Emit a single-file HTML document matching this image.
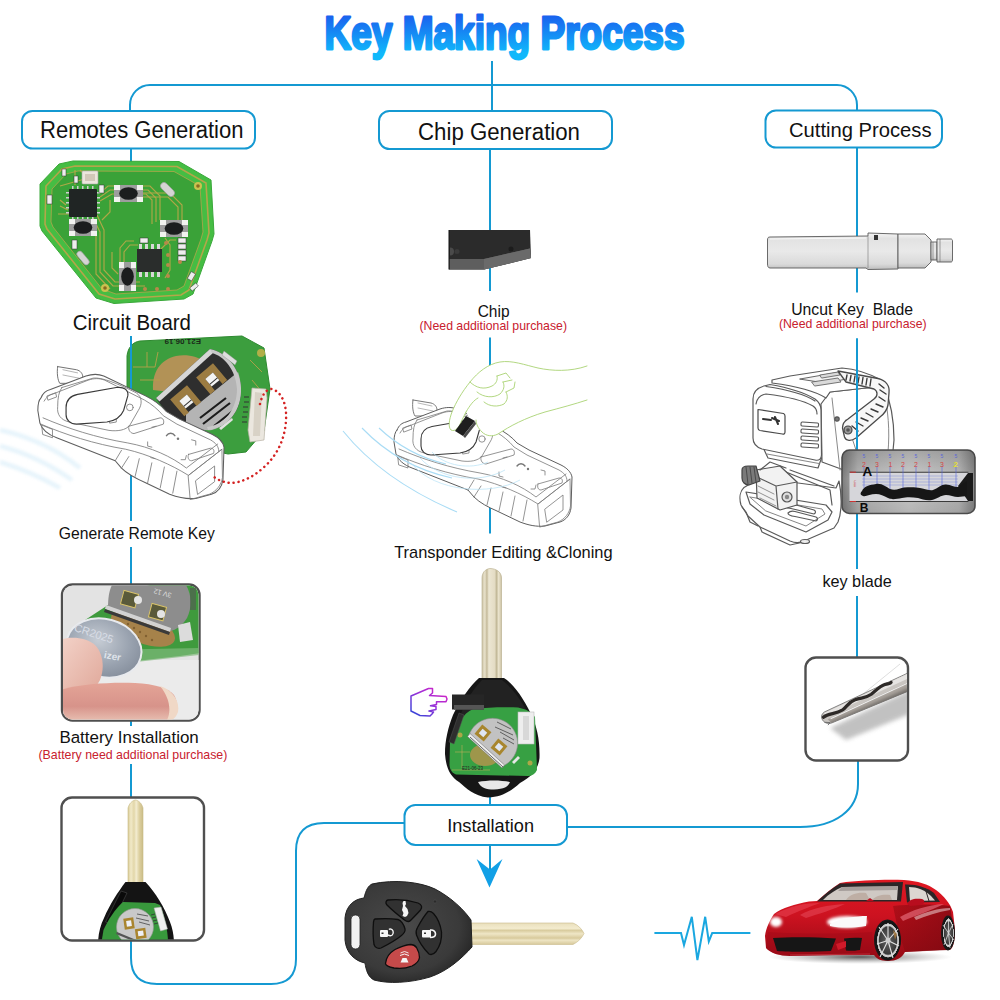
<!DOCTYPE html>
<html><head><meta charset="utf-8"><title>Key Making Process</title>
<style>
html,body{margin:0;padding:0;background:#fff;}
body{width:1000px;height:1000px;overflow:hidden;font-family:"Liberation Sans",sans-serif;}
svg{display:block;}
.t{font-family:"Liberation Sans",sans-serif;fill:#111;}
.r{font-family:"Liberation Sans",sans-serif;fill:#c8202e;}
.ln{fill:none;stroke:#1499d2;stroke-width:2;}
.bx{fill:#fff;stroke:#1499d2;stroke-width:2;}
.gb{fill:#fff;stroke:#4f4f4f;stroke-width:2.4;}
</style></head>
<body>
<svg width="1000" height="1000" viewBox="0 0 1000 1000">
<defs>
  <linearGradient id="tg" gradientUnits="userSpaceOnUse" x1="0" y1="15" x2="0" y2="53">
    <stop offset="0" stop-color="#1a60ee"/>
    <stop offset="1" stop-color="#10b8fb"/>
  </linearGradient>
</defs>
<rect width="1000" height="1000" fill="#fff"/>

<!-- TITLE -->
<text x="324.5" y="49.2" font-size="47" font-weight="bold" textLength="360" lengthAdjust="spacingAndGlyphs" fill="url(#tg)" stroke="url(#tg)" stroke-width="2.8" stroke-linejoin="round" font-family="Liberation Sans">Key Making Process</text>

<!-- CONNECTOR LINES -->
<g class="ln">
  <path d="M492,61 V111"/>
  <path d="M130,111 V105 A20,20 0 0 1 150,85 H837 A20,20 0 0 1 857,105 V111"/>
  <!-- left column -->
  <path d="M131,148 V162"/>
  <path d="M131,336 V521"/>
  <path d="M131,547 V584"/>
  <path d="M131,721 V726"/>
  <path d="M131,764 V797"/>
  <path d="M131,940 V958 Q131,984 157,984 H271 Q296,984 296,959 V851 Q296,823 324,823 H405"/>
  <!-- middle column -->
  <path d="M490,149 V291"/>
  <path d="M490,337.5 V533.5"/>
  <path d="M490,790 V805"/>
  <path d="M490,845 V870"/>
  <!-- right column -->
  <path d="M857,147 V292.5"/>
  <path d="M857,338.5 V569"/>
  <path d="M857,596 V657"/>
  <path d="M858,761 V784 C858,810 835,827 800,827 H567"/>
</g>
<path d="M476.6,859 L490,869.5 L502.5,859 L489.5,887.5 Z" fill="#12a0e6"/>

<!-- HEADER BOXES -->
<rect class="bx" x="22" y="111" width="233" height="37.5" rx="10.5"/>
<rect class="bx" x="379" y="111" width="233" height="38" rx="10.5"/>
<rect class="bx" x="765.5" y="110.5" width="176.5" height="37" rx="10.5"/>
<rect class="bx" x="404.5" y="805" width="162.5" height="40" rx="11"/>

<text class="t" x="40" y="137.5" font-size="23" textLength="203.5" lengthAdjust="spacingAndGlyphs">Remotes Generation</text>
<text class="t" x="418" y="139.5" font-size="23" textLength="162" lengthAdjust="spacingAndGlyphs">Chip Generation</text>
<text class="t" x="789" y="137.2" font-size="20" textLength="142.5" lengthAdjust="spacingAndGlyphs">Cutting Process</text>
<text class="t" x="447.2" y="832" font-size="19" textLength="86.8" lengthAdjust="spacingAndGlyphs">Installation</text>

<!-- LABELS -->
<text class="t" x="72.8" y="329.6" font-size="21.2" textLength="118.2" lengthAdjust="spacingAndGlyphs">Circuit Board</text>
<text class="t" x="58.8" y="538.8" font-size="17.4" textLength="156.1" lengthAdjust="spacingAndGlyphs">Generate Remote Key</text>
<text class="t" x="59.4" y="742.6" font-size="16.3" textLength="139.4" lengthAdjust="spacingAndGlyphs">Battery Installation</text>
<text class="r" x="38.5" y="758.7" font-size="12.6" textLength="188.8" lengthAdjust="spacingAndGlyphs">(Battery need additional purchase)</text>
<text class="t" x="477.7" y="316.9" font-size="16" textLength="31.8" lengthAdjust="spacingAndGlyphs">Chip</text>
<text class="r" x="419.5" y="330" font-size="12.6" textLength="147.5" lengthAdjust="spacingAndGlyphs">(Need additional purchase)</text>
<text class="t" x="791.2" y="314.7" font-size="15.6" textLength="121.9" lengthAdjust="spacingAndGlyphs">Uncut Key&#160; Blade</text>
<text class="r" x="778.9" y="327.8" font-size="12.6" textLength="147.7" lengthAdjust="spacingAndGlyphs">(Need additional purchase)</text>
<text class="t" x="394.2" y="557.6" font-size="16.4" textLength="218.4" lengthAdjust="spacingAndGlyphs">Transponder Editing &amp;Cloning</text>
<text class="t" x="822.4" y="587" font-size="16.4" textLength="69.4" lengthAdjust="spacingAndGlyphs">key blade</text>

<!-- GREY BOXES -->
<rect class="gb" x="62" y="584.5" width="137.5" height="136" rx="10.5"/>
<rect class="gb" x="61.5" y="797.5" width="142.5" height="143" rx="10.5"/>
<rect class="gb" x="805.5" y="657.5" width="102.5" height="103" rx="10.5"/>

<!-- BOTTOM REMOTE KEY -->
<g id="remote">
  <defs>
    <radialGradient id="rkg" cx="0.45" cy="0.45" r="0.6">
      <stop offset="0" stop-color="#4a4a4a"/>
      <stop offset="0.75" stop-color="#3a3a3a"/>
      <stop offset="1" stop-color="#262626"/>
    </radialGradient>
    <linearGradient id="bladeg" x1="0" y1="0" x2="0" y2="1">
      <stop offset="0" stop-color="#e9dfbc"/>
      <stop offset="0.25" stop-color="#f3ebce"/>
      <stop offset="0.35" stop-color="#d9cc9f"/>
      <stop offset="0.5" stop-color="#efe6c6"/>
      <stop offset="0.7" stop-color="#d8ca9c"/>
      <stop offset="0.8" stop-color="#eee5c4"/>
      <stop offset="1" stop-color="#d6c89a"/>
    </linearGradient>
  </defs>
  <path d="M471,923 L573,923 C578,925 582,929 584,933.5 C582,938 578,942 573,944.5 L471,944.5 Z" fill="url(#bladeg)" stroke="#c9bb8c" stroke-width="0.6"/>
  <path d="M372,884 C395,879 420,882 435,889 C452,898 464,910 471,920 L472,947 C462,958 448,971 430,977 C410,983 388,984 374,980 C368,977 366,970 365,963 C355,961 346,953 345,940 L345,918 C346,906 354,899 364,898 C366,890 368,886 372,884 Z" fill="url(#rkg)" stroke="#222" stroke-width="1"/>
  <rect x="351" y="915" width="9" height="34" rx="4.5" fill="#f2f2f2" stroke="#222" stroke-width="0.8"/>
  <!-- buttons -->
  <g stroke="#0e0e0e" stroke-width="1.3">
    <path d="M388,900 C398,899 410,900.5 418,903 C422,904.5 422.5,907.5 420.5,910 C417,914 413,918 410.5,920.5 C409,922 406.5,921.5 404.5,920 C398,915 392,910 387,905 C385,903 386,900.5 388,900 Z" fill="#313131"/>
    <path d="M375,919 C382,918.5 392,918.5 398,919.5 C401,920 404,925 405,929 C405.5,931.5 404,933.5 401.5,935.5 C396,940 388,944.5 381,948 C378,949 375,947.5 374,944.5 C373,938 373,928 373.5,922 C373.7,920.3 374,919.2 375,919 Z" fill="#313131"/>
    <path d="M428,911.5 C430,911 432,912 433.5,913.5 C437.5,918 440.5,925 441.5,932 C442,939 440,946 436,951.5 C434,954 431,955 429,954 C424,949 419,942 416.5,935 C415.5,932 416,930 417.5,927.5 C420.5,922 424,916 428,911.5 Z" fill="#313131"/>
    <path d="M395,949.5 C400,947 406,945 410.5,944.5 C413,944.5 415,945.5 416.5,947.5 C418,950 419.5,954 419.5,957.5 C419,961 416,964 412,966 C407,968 400,969 394,968 C389,967 385.5,966 385.5,963.5 C386,958 390,952.5 395,949.5 Z" fill="#c64a4a"/>
  </g>
  <!-- icons -->
  <g fill="#f6f6f6">
    <path d="M403.5,901 L405.5,901 L406,904 L405,906 L407.5,909 L408.5,913 L407,916 L405,917 L402.5,916 L403.5,913 L402,910 L403,906 L402.5,903 Z"/>
    <rect x="380" y="930" width="8" height="7" rx="1"/>
    <path d="M388,935 C392,937 394,934 393,931 C392,929 390,928.5 389,929.5" fill="none" stroke="#f6f6f6" stroke-width="1.4"/>
    <rect x="422" y="930" width="9" height="7.5" rx="1"/>
    <path d="M430,930 C434,929.5 435.5,932 435.5,934 C435.5,936.5 433,937.5 430,937.5" fill="none" stroke="#f6f6f6" stroke-width="1.6"/>
    <path d="M400.5,962.5 L408.5,962.5 L406.5,958 L402.5,958 Z"/>
    <path d="M400,955.5 Q404.5,952.5 409,955.5" fill="none" stroke="#f6f6f6" stroke-width="1"/>
    <path d="M400.5,953 Q404.5,950 408.5,953" fill="none" stroke="#f6f6f6" stroke-width="0.9"/>
  </g>
  <g fill="#333"><rect x="381.5" y="932.5" width="2" height="1.5"/><rect x="424" y="932.5" width="2" height="1.5"/></g>
  <circle cx="435" cy="901.5" r="1.6" fill="#2a2a2a" stroke="#555" stroke-width="0.4"/>
</g>

<!-- TOP LEFT PCB -->
<g id="pcb1">
  <path d="M40,184 L59,164 L73,161 L179,161.5 L211,180 L214,234 L212,241 L193,294 L184,299 L114,303.5 L96,298 L42,231 L40,226 Z" fill="#45bd43" stroke="#3aa83a" stroke-width="1"/>
  <path d="M46,186 L62,169 L75,166 L177,166.5 L206,183 L209,233 L207,240 L189,290 L181,295 L115,299 L99,294 L47,229 L45,224 Z" fill="none" stroke="#b3a64a" stroke-width="1.6"/>
  <path d="M52,189 L66,174 L78,171 L174,171.5 L200,186 L203,232 L201,239 L184,286 L177,290 L116,294 L102,289 L53,227 L51,222 Z" fill="#3aa238" stroke="#b3a64a" stroke-width="0.8"/>
  <!-- traces -->
  <g fill="none" stroke="#b5a848" stroke-width="1.15" opacity="0.95">
    <path d="M100,193 L108,186 L150,186 L160,196 L160,220"/>
    <path d="M100,197 L110,190 L148,190 L156,198 L156,222"/>
    <path d="M100,201 L112,194 L146,194 L152,200 L152,224"/>
    <path d="M102,220 L110,212 L110,200"/>
    <path d="M97,215 L104,230 L104,270 L115,282 L140,282"/>
    <path d="M93,218 L100,232 L100,272 L113,286 L145,286"/>
    <path d="M89,220 L96,234 L96,274 L110,289"/>
    <path d="M138,245 L130,245 L124,252 L124,262"/>
    <path d="M134,241 L126,241 L120,248 L120,262"/>
    <path d="M165,238 L170,245 L170,270 L165,278"/>
    <path d="M60,200 L66,205 M60,206 L68,210"/>
    <path d="M75,170 L75,185 M80,170 L85,175"/>
    <path d="M143,193 L170,193 L182,205 L182,222"/>
    <path d="M143,197 L168,197 L178,207 L178,222"/>
    <path d="M112,252 L112,268 L118,274"/>
    <path d="M160,250 L170,240 L176,240"/>
    <path d="M60,186 L88,178 M58,214 L70,214"/>
  </g>
  <!-- QFN chip -->
  <rect x="69" y="189" width="28" height="28" rx="1" fill="#202524"/>
  <g fill="#cfcfcf">
    <rect x="66" y="192" width="3" height="1.5"/><rect x="66" y="197" width="3" height="1.5"/><rect x="66" y="202" width="3" height="1.5"/><rect x="66" y="207" width="3" height="1.5"/><rect x="66" y="212" width="3" height="1.5"/>
    <rect x="97" y="192" width="3" height="1.5"/><rect x="97" y="197" width="3" height="1.5"/><rect x="97" y="202" width="3" height="1.5"/><rect x="97" y="207" width="3" height="1.5"/><rect x="97" y="212" width="3" height="1.5"/>
    <rect x="72" y="186" width="1.5" height="3"/><rect x="77" y="186" width="1.5" height="3"/><rect x="82" y="186" width="1.5" height="3"/><rect x="87" y="186" width="1.5" height="3"/><rect x="92" y="186" width="1.5" height="3"/>
    <rect x="72" y="217" width="1.5" height="3"/><rect x="77" y="217" width="1.5" height="3"/><rect x="82" y="217" width="1.5" height="3"/><rect x="87" y="217" width="1.5" height="3"/><rect x="92" y="217" width="1.5" height="3"/>
  </g>
  <!-- tactile switches -->
  <g>
    <rect x="114" y="185" width="29" height="17" rx="1" fill="#9d9d9d"/>
    <rect x="114" y="185" width="6" height="5" fill="#f2f2f0"/>
    <rect x="137" y="185" width="6" height="5" fill="#f2f2f0"/>
    <rect x="114" y="197" width="6" height="5" fill="#f2f2f0"/>
    <rect x="137" y="197" width="6" height="5" fill="#f2f2f0"/>
    <ellipse cx="128.5" cy="193.5" rx="9.3" ry="6.3" fill="#1b1d1e"/>
    <rect x="69" y="219" width="28" height="17" rx="1" fill="#9d9d9d"/>
    <rect x="69" y="219" width="6" height="5" fill="#f2f2f0"/>
    <rect x="91" y="219" width="6" height="5" fill="#f2f2f0"/>
    <rect x="69" y="231" width="6" height="5" fill="#f2f2f0"/>
    <rect x="91" y="231" width="6" height="5" fill="#f2f2f0"/>
    <ellipse cx="83.0" cy="227.5" rx="9.3" ry="6.3" fill="#1b1d1e"/>
    <rect x="160" y="220" width="28" height="17" rx="1" fill="#9d9d9d"/>
    <rect x="160" y="220" width="6" height="5" fill="#f2f2f0"/>
    <rect x="182" y="220" width="6" height="5" fill="#f2f2f0"/>
    <rect x="160" y="232" width="6" height="5" fill="#f2f2f0"/>
    <rect x="182" y="232" width="6" height="5" fill="#f2f2f0"/>
    <ellipse cx="174.0" cy="228.5" rx="9.3" ry="6.3" fill="#1b1d1e"/>
    <rect x="119" y="262" width="17" height="29" rx="1" fill="#9d9d9d"/>
    <rect x="119" y="262" width="5" height="6" fill="#f2f2f0"/>
    <rect x="131" y="262" width="5" height="6" fill="#f2f2f0"/>
    <rect x="119" y="285" width="5" height="6" fill="#f2f2f0"/>
    <rect x="131" y="285" width="5" height="6" fill="#f2f2f0"/>
    <ellipse cx="127.5" cy="276.5" rx="6.3" ry="9.3" fill="#1b1d1e"/>
  </g>
  <!-- SOIC -->
  <g fill="#d8d8d8">
    <rect x="139" y="244" width="3" height="5"/><rect x="145" y="244" width="3" height="5"/><rect x="151" y="244" width="3" height="5"/><rect x="157" y="244" width="3" height="5"/>
    <rect x="139" y="272" width="3" height="5"/><rect x="145" y="272" width="3" height="5"/><rect x="151" y="272" width="3" height="5"/><rect x="157" y="272" width="3" height="5"/>
  </g>
  <rect x="137" y="249" width="25" height="23" fill="#2a2d2c"/>
  <!-- crystals / small parts -->
  <rect x="159" y="186" width="17" height="7" rx="3.5" fill="#d4d4d4" stroke="#999" stroke-width="0.6" transform="rotate(45 167.5 189.5)"/>
  <rect x="75" y="255" width="16" height="6" rx="3" fill="#d4d4d4" stroke="#999" stroke-width="0.6" transform="rotate(50 83 258)"/>
  <rect x="82" y="171" width="16" height="13" rx="1" fill="#ece6dc" stroke="#aaa" stroke-width="0.6"/>
  <rect x="85" y="174" width="10" height="7" fill="#d2c8b8"/>
  <circle cx="198" cy="186" r="4" fill="#c9c24f"/><circle cx="198" cy="186" r="1.8" fill="#8a6a20"/>
  <circle cx="105" cy="288" r="4" fill="#c9c24f"/><circle cx="105" cy="288" r="1.8" fill="#8a6a20"/>
  <g fill="#eeeeee" stroke="#333" stroke-width="0.5">
    <rect x="178" y="238" width="8" height="5"/><rect x="178" y="244" width="8" height="5"/><rect x="178" y="250" width="8" height="5"/><rect x="178" y="256" width="8" height="5"/>
    <rect x="62" y="169" width="4" height="7"/><rect x="74" y="176" width="4" height="7"/>
    <rect x="47" y="195" width="5" height="9"/><rect x="99" y="185" width="5" height="8"/>
    <rect x="72" y="240" width="5" height="9"/><rect x="140" y="238" width="8" height="5"/>
    <rect x="189" y="272" width="5" height="8" transform="rotate(30 191 276)"/>
    <rect x="192" y="283" width="4" height="8" transform="rotate(50 194 287)"/>
  </g>
  <g fill="#b8884a">
    <circle cx="166" cy="243" r="2"/><circle cx="168" cy="255" r="2"/><circle cx="168" cy="265" r="2"/><circle cx="168" cy="276" r="2"/>
    <circle cx="145" cy="289" r="2"/><circle cx="157" cy="289" r="2"/><circle cx="168" cy="289" r="2"/><circle cx="180" cy="262" r="2"/>
  </g>
</g>

<!-- PCB2 + REMOTE DEVICE -->
<g id="pcb2">
  <path d="M127,356 C128,347 133,342 140,341 L242,336 L264,348 L270,389 L264,431 L246,452 L228,454 L160,440 L127,420 Z" fill="#3c9e3e"/>
  <path d="M127,356 C128,347 133,342 140,341 L242,336 L264,348 L270,389 L264,431 L246,452 L228,454 L160,440 L127,420 Z" fill="none" stroke="#2e8a30" stroke-width="1"/>
  <circle cx="261" cy="353" r="4" fill="#c6b24a" opacity="0.85"/>
  <!-- tan battery pad -->
  <path d="M153,390 C152,372 160,360 176,356 C188,354 198,357 205,362 L170,392 Z" fill="#b29256"/>
  <g fill="none" stroke="#b4a04a" stroke-width="0.9">
    <path d="M133,367 L155,367 L158,352 M147,352 L147,367 M160,380 L140,380"/>
    <path d="M250,360 L262,372 M252,380 L262,392"/>
  </g>
  <text x="163" y="347" font-size="8" font-weight="bold" fill="#1a2a1a" transform="rotate(180 182 343)" font-family="Liberation Sans">E21.06.19</text>
  <!-- battery holder D shape -->
  <path d="M156,398 L210,349 C226,352 240,368 241,388 C242,410 228,428 208,430 C188,431 170,420 156,398 Z" fill="#2e2e2e"/>
  <path d="M186,414 L238,372 C241,380 242,392 239,402 C236,414 226,426 212,430 C202,431 194,428 186,422 Z" fill="#b4b4b4"/>
  <path d="M200,418 L226,398 M203,424 L230,403 M214,426 L234,410" stroke="#1c1c1c" stroke-width="2.2"/>
  <path d="M156,398 L210,349 L213.5,352.5 L159.5,401.5 Z" fill="#d6d6d6"/>
  <path d="M210,349 C226,352 240,368 241,388 C242,410 228,428 208,430 L207,427 C224,425 237,410 237,389 C236,370 224,356 212,353 Z" fill="#c8c8c8"/>
  <path d="M224,351 L237,361 L235,365 L222,355 Z" fill="#dedede" stroke="#888" stroke-width="0.4"/>
  <path d="M219,428 L232,418 L233,420 L221,430 Z" fill="#e0e0e0"/>
  <!-- gold contacts (U brackets) -->
  <g transform="rotate(-40 211 378)">
    <path d="M200,368 L222,368 L222,390 L216,390 L216,375 L206,375 L206,390 L200,390 Z" fill="#9c7c42"/>
    <rect x="206" y="375" width="10" height="10" fill="#f4f4f4"/>
    <path d="M206,382 L216,382" stroke="#333" stroke-width="1"/>
  </g>
  <g transform="rotate(-40 185 400)">
    <path d="M174,390 L196,390 L196,412 L190,412 L190,397 L180,397 L180,412 L174,412 Z" fill="#9c7c42"/>
    <rect x="180" y="397" width="10" height="10" fill="#f4f4f4"/>
    <path d="M180,404 L190,404" stroke="#333" stroke-width="1"/>
  </g>
  <!-- white connector -->
  <path d="M252,388 L266,389 L267,398 L264,440 L250,442 L248,430 Z" fill="#ebe7df" stroke="#b9b3a6" stroke-width="0.7"/>
  <path d="M255,392 L262,393 L260,436 L253,436 Z" fill="#d8d2c6"/>
  <g stroke="#333" stroke-width="1.2"><path d="M244,397 L249,397 M244,402 L249,402 M243,407 L248,407 M243,412 L248,412 M242,417 L247,417 M242,422 L247,422"/></g>
</g>
<path d="M131,336 V390" class="ln"/>
<!-- faint blue swoosh -->
<defs><filter id="swb" x="-20%" y="-50%" width="140%" height="200%"><feGaussianBlur stdDeviation="1.5"/></filter></defs>
<g fill="none" stroke="#d3ebf8" stroke-width="4.5" opacity="0.55" filter="url(#swb)">
  <path d="M0,430 Q45,440 80,468"/>
  <path d="M0,446 Q38,456 72,480"/>
  <path d="M0,462 Q32,472 60,488"/>
</g>
<!-- remote device drawing -->
<g transform="matrix(1.046,0,0,1.046,-374.3,-51.8)" stroke-linejoin="round" stroke-linecap="round">
    <path d="M413,400 L431,403 C435,404 437,407 437,410 L437,416 L415,416 C413,413 412,406 413,400 Z" fill="#fff" stroke="#6a6a6a" stroke-width="0.9"/>
    <path d="M418,403 L432,406 M418,408 L433,411" stroke="#999" stroke-width="0.7" fill="none"/>
    <path d="M397,430 C399,425 402,423 406,422 L440,409 C446,407 452,407 457,409 L497,428 C505,432 512,437 517,443 L529,450 L561,465 C567,468 571,472 572,477 L571,508 C570,515 566,520 560,522 L545,526 C536,527 528,525 520,522 L497,511 C488,507 480,503 474,497 L468,490 L412,468 C404,465 398,460 396,454 L394,442 C394,436 395,432 397,430 Z" fill="#fff" stroke="#5e5e5e" stroke-width="1"/>
    <g fill="none" stroke="#7a7a7a" stroke-width="0.8">
      <path d="M400,433 C402,429 405,427 409,426 L442,413 C448,411 453,411 458,413 L496,432 C503,436 509,441 514,447 L527,455 L559,470 C564,473 567,476 567,481"/>
      <path d="M397,455 C420,465 448,474 478,479 C500,484 522,494 538,504 L570,479"/>
      <path d="M399,449 C422,459 450,468 480,473 C502,477 522,486 536,497 L566,474"/>
      <path d="M417,420 L447,411 C455,410 470,416 488,425 C494,429 494,436 490,442 L482,456 C478,461 470,462 462,461 L424,453 C416,451 412,446 413,438 C413,430 414,424 417,420 Z"/>
      <path d="M468,490 L474,480 M474,497 L481,486 M487,505 L491,488 M499,511 L503,492 M511,516 L515,496 M523,521 L527,500"/>
      <path d="M538,504 L570,479 L570.5,506 C569.5,513 565,519 558,522 L540,527 Z"/>
      <path d="M545,509 L563,495 L563,510 L547,522 Z"/>
      <path d="M481,457 L511,449 C514,449 515,452 514,455 L486,464 C483,464 480,461 481,457 Z"/>
      <path d="M503,458 L507,457 M499,472 L499,476 L503,477 M541,470 L545,471 L545,475 M531,489 L535,489 L536,485 M502,487 L506,488"/>
      <path d="M538,484 L559,478 C562,478 563,480 562,483 L541,490 C538,490 537,487 538,484 Z"/>
      <path d="M398,456 L408,460 L408,468 L399,465 Z"/>
      <path d="M403,428 L411,425 L412,429 L404,432 Z"/>
      <circle cx="482" cy="439" r="3.2"/>
      <path d="M463,451 L469,450 L469,453 L463,454 Z"/>
    </g>
    <path d="M421,439 C421,432 425,428 432,426.5 L469,420 C476,419 481,422 480,428 L476,442 C473,449 467,452 460,453 L431,455 C425,455 421,451 421,446 Z" fill="#fff" stroke="#3a3a3a" stroke-width="1.1"/>
    <path d="M517,466 C519,463 523,463 525,466" fill="none" stroke="#777" stroke-width="1.4"/>
    <circle cx="528" cy="469" r="1.2" fill="#777"/>
  </g>
<!-- red dotted arc -->
<path d="M260,404 C262,395 266,389 272,389 C282,392 287,405 286,420 C285,438 278,455 263,468 C252,478 240,483 230,483 C222,482 216,479 213,476" fill="none" stroke="#d42222" stroke-width="2.5" stroke-dasharray="0.1 4.9" stroke-linecap="round"/>

<!-- BATTERY PHOTO -->
<g id="battery">
  <defs>
    <clipPath id="bclip"><rect x="63" y="585.5" width="135.5" height="134" rx="9.5"/></clipPath>
    <radialGradient id="coing" cx="0.4" cy="0.4" r="0.7">
      <stop offset="0" stop-color="#c6ccd4"/>
      <stop offset="0.6" stop-color="#9aa3b0"/>
      <stop offset="1" stop-color="#818a98"/>
    </radialGradient>
    <linearGradient id="skin1" x1="0" y1="0" x2="1" y2="1">
      <stop offset="0" stop-color="#f3d2c8"/>
      <stop offset="1" stop-color="#e0a89a"/>
    </linearGradient>
    <linearGradient id="skin2" x1="0" y1="0" x2="0" y2="1">
      <stop offset="0" stop-color="#e4a497"/>
      <stop offset="0.6" stop-color="#d7938a"/>
      <stop offset="1" stop-color="#e9c2b4"/>
    </linearGradient>
  </defs>
  <g clip-path="url(#bclip)">
    <rect x="60" y="580" width="145" height="145" fill="#e3e3e3"/>
    <rect x="60" y="660" width="145" height="65" fill="#ebebeb"/>
    <!-- green pcb diagonal -->
    <path d="M82,622 L128,592 L150,585 L200,585 L200,653 L180,656 L136,661 L100,662 Z" fill="#3f9a3d"/>
    <path d="M96,650 L200,648 L200,655 L136,662 Z" fill="#7fb97a" opacity="0.7"/>
    <!-- tan pad -->
    <ellipse cx="143" cy="628" rx="34" ry="15" fill="#a6824a" transform="rotate(22 143 628)"/>
    <g fill="#6a4a20" opacity="0.6"><circle cx="128" cy="624" r="1.2"/><circle cx="134" cy="628" r="1.2"/><circle cx="140" cy="632" r="1.2"/><circle cx="146" cy="636" r="1.2"/><circle cx="132" cy="634" r="1.2"/><circle cx="138" cy="638" r="1.2"/><circle cx="152" cy="640" r="1.2"/><circle cx="126" cy="630" r="1.2"/></g>
    <!-- metal holder -->
    <path d="M112,585 L186,585 C192,595 192,608 187,618 C182,626 176,630 170,631 L108,608 C108,598 109,591 112,585 Z" fill="#8d8d8d"/>
    <path d="M106,605 L171,628 L170,632 L105,609 Z" fill="#d2d2d2"/>
    <path d="M105,609 L170,632 L169,635 L104,612 Z" fill="#3a3a3a"/>
    <rect x="122" y="592" width="15" height="14" fill="#5a5a3a" stroke="#d9c36a" stroke-width="1" transform="rotate(15 129 599)"/>
    <circle cx="138" cy="600" r="4" fill="#e4e4e4"/>
    <rect x="150" y="605" width="15" height="14" fill="#5a5a3a" stroke="#d9c36a" stroke-width="1" transform="rotate(15 157 612)"/>
    <circle cx="161" cy="614" r="4" fill="#e4e4e4"/>
    <text x="148" y="594" font-size="7" fill="#ddd" transform="rotate(195 160 592)" font-family="Liberation Sans">3V 12</text>
    <path d="M178,625 L190,622 L193,640 L180,642 Z" fill="#dcdcdc"/>
    <rect x="190" y="588" width="6" height="22" fill="#555" opacity="0.6"/>
    <!-- coin -->
    <ellipse cx="104" cy="648" rx="38" ry="29" fill="url(#coing)" transform="rotate(15 104 648)"/>
    <ellipse cx="104" cy="648" rx="38" ry="29" fill="none" stroke="#e8eaee" stroke-width="2" transform="rotate(15 104 648)"/>
    <text x="74" y="636" font-size="11" fill="#d8dde6" transform="rotate(18 90 632)" font-family="Liberation Sans">CR2025</text>
    <text x="104" y="660" font-size="10" font-weight="bold" fill="#dfe4ea" transform="rotate(10 115 656)" font-family="Liberation Sans">izer</text>
    <!-- thumb -->
    <path d="M60,640 C70,636 86,637 95,645 C103,653 105,668 100,680 C95,690 84,694 72,693 L60,692 Z" fill="url(#skin1)"/>
    <!-- lower finger -->
    <path d="M60,690 C80,684 110,682 135,683 C155,684 168,688 174,695 C180,705 176,716 165,722 L60,722 Z" fill="url(#skin2)"/>
    <path d="M160,686 C172,690 180,700 178,712 C176,718 172,721 166,722 C172,712 170,698 160,686 Z" fill="#f0d8c6"/>
  </g>
</g>

<!-- BOTTOM-LEFT KEY PHOTO -->
<g id="keybox">
  <defs>
    <clipPath id="kclip"><rect x="62.5" y="798.5" width="140.5" height="141" rx="9.5"/></clipPath>
    <linearGradient id="kbl" x1="0" y1="0" x2="1" y2="0">
      <stop offset="0" stop-color="#d9cc97"/>
      <stop offset="0.2" stop-color="#f1e9c8"/>
      <stop offset="0.4" stop-color="#e2d6a8"/>
      <stop offset="0.55" stop-color="#f3ecd0"/>
      <stop offset="0.75" stop-color="#ddd0a0"/>
      <stop offset="1" stop-color="#cbbd88"/>
    </linearGradient>
  </defs>
  <g clip-path="url(#kclip)">
    <path d="M128,808 C129,804 132,800.5 135.5,800 C139,800.5 142,804 143,808 L143,883 L128,883 Z" fill="url(#kbl)" stroke="#c7b985" stroke-width="0.6"/>
    <path d="M125.5,882 L145.5,882 C155,892 165,908 170,922 C173,930 174,936 174,945 L98,945 C98,935 100,926 104,918 C110,904 118,892 125.5,882 Z" fill="#141414"/>
    <path d="M121,891 L127,893 L112,924 L105.5,922 Z" fill="#0a0a0a" stroke="#4a4a4a" stroke-width="0.6"/>
    <path d="M123,902 L155,903 L160,905 C164,914 167,926 168,940 L168,945 L101,945 L103.5,930 C108,920 115,909 123,902 Z" fill="#38983c"/>
    <circle cx="135" cy="927" r="18.5" fill="#c9c9c9" stroke="#999" stroke-width="0.6"/>
    <path d="M117,932 L146,944 L145,946 L116,934 Z" fill="#555"/>
    <rect x="124" y="918" width="10" height="11" fill="#a9852f" transform="rotate(-8 129 923.5)"/>
    <rect x="126.5" y="920.5" width="5" height="6" fill="#eef0f6" transform="rotate(-8 129 923.5)"/>
    <rect x="135.5" y="928.5" width="10.5" height="10" fill="#a9852f" transform="rotate(-8 140.5 933.5)"/>
    <rect x="138" y="931" width="5.5" height="5" fill="#eef0f6" transform="rotate(-8 140.5 933.5)"/>
    <path d="M137,914 L148,916 M136,918 L149,921 M139,922 L150,925" stroke="#555" stroke-width="0.9"/>
    <path d="M154,908 L161,907 L167.5,929 L160.5,931 Z" fill="#eeeeee" stroke="#aaa" stroke-width="0.5"/>
    <path d="M151,915 L155,914 M152,918 L156,917 M153,921 L157,920 M154,924 L158,923" stroke="#333" stroke-width="0.8"/>
  </g>
</g>

<!-- CHIP -->
<g id="chip">
  <path d="M449,230 L530,230 L531,258 L484,269.5 L449,269.5 Z" fill="#2b2b2b"/>
  <path d="M449.5,259 L484,259 L530,248.5 L531,258 L484,269.5 L449.5,269.5 Z" fill="#5e5e5e"/>
  <path d="M484,259 L530,248.5 L531,258 L484,269.5 Z" fill="#6a6a6a"/>
  <path d="M449,230 L449,269.5" stroke="#111" stroke-width="1"/>
  <path d="M450,247.5 A4,4 0 0 1 450,255.5 Z" fill="#4a4a4a"/>
  <circle cx="457" cy="251.5" r="2.5" fill="#3a3a3a"/>
  <circle cx="511" cy="249" r="2.5" fill="#1c1c1c"/>
</g>

<!-- UNCUT KEY BLADE -->
<g id="uncut">
  <defs>
    <linearGradient id="ubl" x1="0" y1="0" x2="0" y2="1">
      <stop offset="0" stop-color="#f4f4f4"/>
      <stop offset="0.15" stop-color="#e2e2e2"/>
      <stop offset="0.5" stop-color="#e9e9e9"/>
      <stop offset="0.85" stop-color="#dadada"/>
      <stop offset="1" stop-color="#bdbdbd"/>
    </linearGradient>
  </defs>
  <g stroke="#5a5a5a" stroke-width="0.9" fill="url(#ubl)">
    <path d="M770,237 L868,236 L868,233 L898,234 L898,269 L868,269.5 L866,268 L770,268 C768,268 767.5,266 767.5,264 L767.5,240 C767.5,238 768,237 770,237 Z"/>
    <path d="M898,234 L925,234 L931,240 L931,262 L925,268 L898,268 Z"/>
    <path d="M931,242 L937,242 L937,260 L931,260 Z"/>
    <path d="M937,239 L951,239 C952,239 952.5,240 952.5,241 L952.5,260 C952.5,261 952,262 951,262 L937,262 Z"/>
  </g>
  <path d="M868,236 L868,268" stroke="#777" stroke-width="0.6"/>
  <path d="M874,235 L878,235 L878,240 L874,240 Z" fill="#333"/>
  <path d="M940,239 L940,262 M933,242 L933,260" stroke="#666" stroke-width="0.6"/>
  <path d="M770,239 L866,238" stroke="#fafafa" stroke-width="1"/>
</g>

<!-- CUTTING MACHINE -->
<g id="machine" fill="#fff" stroke="#5a5a5a" stroke-width="1.2" stroke-linejoin="round" stroke-linecap="round">
  <!-- right side body -->
  <path d="M821,404 L830,392 L884,386 C890,400 894,420 894,440 L891,472 L860,476 L822,462 Z"/>
  <path d="M832,398 L840,470 M846,420 L864,474 M884,392 C888,410 890,430 888,452" fill="none" stroke="#8a8a8a" stroke-width="1"/>
  <circle cx="837" cy="419" r="2.2" fill="#777" stroke="#555"/>
  <!-- roof -->
  <path d="M772,380 L790,376 L842,368 C856,369 870,374 881,380 L884,386 L830,392 L826,398 C815,391 795,386 772,383 Z"/>
  <path d="M800,379 L840,372 L862,376 L826,383 Z" fill="#f2f2f2" stroke="#666" stroke-width="1"/>
  <path d="M812,382 L838,378 L841,382 L815,386 Z" fill="#dadada" stroke="#666" stroke-width="0.9"/>
  <path d="M820,375 L838,372 L840,375 L822,378 Z" fill="#dadada" stroke="#666" stroke-width="0.9"/>
  <!-- handle -->
  <path d="M838,371 L878,378.5 C886,380.5 890,386 889,393 L888,405 C887,410 884,414 880,417 L856,438 C851,441.5 846,441 844.5,437 L842.5,428 C842.5,424 844.5,421 848,419 L874,399 C878,396 878,391 874,389 L846,382 Z" fill="#f7f7f7" stroke="#4a4a4a" stroke-width="1.3"/>
  <g stroke="#3a3a3a" stroke-width="1.4" fill="none">
    <path d="M847,375 L846,380 M851,375.5 L850,381 M855,376 L854,382 M859,377 L858,383 M863,377.5 L862,384 M867,378.5 L866,385 M871,379 L870,386"/>
    <path d="M879,384 L884,388 M880,390 L886,394 M879,397 L885,401 M876,404 L883,407 M871,409 L878,412 M866,413 L873,417 M861,418 L868,421 M856,422 L863,426 M852,426 L858,431"/>
  </g>
  <circle cx="848" cy="430" r="4" fill="#9a9a9a" stroke="#444" stroke-width="1.2"/>
  <circle cx="848" cy="430" r="1.8" fill="#555" stroke="none"/>
  <!-- head box -->
  <path d="M753,399 C753,393 757,388 764,386 L770,384.5 C790,388 805,393 815,399 C819,402 821,406 821,410 L821.5,455 C821.5,459 819,461 815,460 L762,449 C756,447 753,443 753,438 Z"/>
  <path d="M756,404 C757,398 760,395 766,394 C790,397 806,402 813,406 C816,408 817,411 817,414" fill="none"/>
  <path d="M766,386.5 C790,390 806,395 815,401" fill="none"/>
  <path d="M758,409.5 L783.5,413.5 C784.5,414 785,415 785,416 L785,432 C785,433.5 784,434.5 782.5,434 L760,430.5 C759,430.3 758,429 758,428 Z" stroke="#4a4a4a"/>
  <path d="M763,419 L771,420 M772,418 L779,421 M775,417 L778,424" stroke="#333" stroke-width="2"/>
  <g fill="#fff" stroke="#555" stroke-width="1.1">
    <rect x="801" y="422.5" width="17.5" height="4" rx="1.2" transform="rotate(4 810 424.5)"/>
    <rect x="801" y="429.5" width="17.5" height="4" rx="1.2" transform="rotate(4 810 431.5)"/>
    <rect x="801" y="436.5" width="17.5" height="4" rx="1.2" transform="rotate(4 810 438.5)"/>
    <rect x="801" y="443.5" width="17.5" height="4" rx="1.2" transform="rotate(4 810 445.5)"/>
  </g>
  <path d="M764,449.5 L768,458 L818,468 L821.5,458" fill="none"/>
  <path d="M767,454 L819,463.5" fill="none" stroke="#8a8a8a"/>
  <!-- base tray -->
  <path d="M744,487.5 L760,478 L836,488 L839,481 C842,495 842,512 838,522 L834,528 L804,541 C800,543 795,543 790,541 L760,527 L748,516 L741,505 C739,498 740,491 744,487.5 Z"/>
  <path d="M746,492 L826,505 L832,512 L828,520 L806,532 L764,515 L750,504 Z" fill="none"/>
  <path d="M750,497 L822,509 L825,514 L806,526 L766,511 Z" fill="none" stroke="#777" stroke-width="0.9"/>
  <path d="M784,505 C786,503 789,503 791,503.5 L814,510 C816,511 816,513 814,514 L791,508.5 C787,508 784,507 784,505 Z" fill="none"/>
  <path d="M788,513 C790,511 793,511 795,511.5 L816,517 C818,518 818,520 816,521 L795,516.5 C791,516 788,515 788,513 Z" fill="none"/>
  <path d="M742,507 L746,512 L750,522 L758,526 M760,527 L762,532 L790,545 L804,542" fill="none"/>
  <ellipse cx="805" cy="541.5" rx="4.5" ry="2" fill="#eee"/>
  <!-- rails -->
  <path d="M786,472 L830,490 L832,505 M790,470 L834,486" fill="none"/>
  <!-- vise block -->
  <path d="M756,470 L780,466 L797,482 L797,505 L780,510 L757,498 Z" fill="#f2f2f2" stroke="#555"/>
  <path d="M776,486 L797,482 M776,486 L778,509 M757,477 L776,486" fill="none"/>
  <path d="M760,470 L770,462 L786,468 L780,466" fill="none"/>
  <circle cx="787" cy="497" r="5" fill="#ddd" stroke="#555"/>
  <circle cx="787" cy="497" r="2.2" fill="#888" stroke="none"/>
  <path d="M758,486 L774,494 M758,492 L774,500 M760,498 L776,506" fill="none" stroke="#888" stroke-width="0.9"/>
  <!-- knob -->
  <path d="M742,470 C742,467 745,466 748,466 L756,466 L760,481 L749,485 C745,485 742,482 742,478 Z" fill="#7a7a7a" stroke="#444"/>
  <path d="M746,467 L748,484 M750,467 L752,483 M754,467 L756,482" stroke="#444" fill="none" stroke-width="0.9"/>
</g>
<path d="M857,338.5 V569" class="ln"/>
<!-- GAUGE PANEL -->
<g id="gauge">
  <defs>
    <linearGradient id="gaugeg" x1="0" y1="0" x2="1" y2="0">
      <stop offset="0" stop-color="#7e7e7e"/>
      <stop offset="0.12" stop-color="#b4b4b4"/>
      <stop offset="0.5" stop-color="#cdcdcd"/>
      <stop offset="0.88" stop-color="#b8b8b8"/>
      <stop offset="1" stop-color="#858585"/>
    </linearGradient>
    <linearGradient id="gaugev" x1="0" y1="0" x2="0" y2="1">
      <stop offset="0" stop-color="#000" stop-opacity="0.18"/>
      <stop offset="0.45" stop-color="#000" stop-opacity="0"/>
      <stop offset="1" stop-color="#000" stop-opacity="0.12"/>
    </linearGradient>
  </defs>
  <rect x="842" y="450" width="133" height="63.5" rx="7.5" fill="url(#gaugeg)" stroke="#505050" stroke-width="1.6"/>
  <rect x="842" y="450" width="133" height="63.5" rx="7.5" fill="url(#gaugev)"/>
  <rect x="849.5" y="472.2" width="119" height="29.3" fill="#d6d6da"/>
  <path d="M849.5,472.2 H968.5 M849.5,501.5 H968.5" stroke="#3a3a3a" stroke-width="1.1"/>
  <path d="M958,486 L968,473 L973,473 L973,501 L968,501 Z" fill="#1a1a1a"/>
  <g stroke="#6b78d6" stroke-width="0.5" opacity="0.8">
    <path d="M862,476 H958 M862,479 H958 M862,482 H958 M862,485 H958"/>
  </g>
  <g stroke="#5566dd" stroke-width="0.6">
    <path d="M864,466 V488 M877,466 V488 M890,466 V490 M903,466 V488 M916,466 V488 M929,466 V490 M942,466 V486 M956,466 V488"/>
  </g>
  <g fill="#5a66d8" font-size="5" font-family="Liberation Sans">
    <text x="862.5" y="458">5</text><text x="875.5" y="458">5</text><text x="888.5" y="458">5</text><text x="901.5" y="458">5</text><text x="914.5" y="458">5</text><text x="927.5" y="458">5</text><text x="940.5" y="458">5</text><text x="954.5" y="458">5</text>
  </g>
  <path d="M862,491 C864,486 870,485 876,484 C882,483 886,487 890,489 C896,491 900,488 904,487.5 C910,487 916,487 920,488 C926,489 930,491 933,490 C938,488 942,484 946,484.5 C951,485 954,487 958,487 L967,481 L967,496 L958,497 C954,497 950,495 946,495 C941,495 937,499 932,500 C926,501 922,499 918,498 C912,497 906,497 902,498 C896,499 892,500 888,498 C884,496 880,494 876,494 C870,494 866,497 863,496 C860,495 860,493 862,491 Z" fill="#161616"/>
  <text x="862.5" y="475.6" font-size="13.5" font-weight="bold" fill="#0a0a0a" font-family="Liberation Sans">A</text>
  <text x="859.8" y="511.8" font-size="12" font-weight="bold" fill="#0a0a0a" font-family="Liberation Sans">B</text>
  <g font-size="7" fill="#d54545" font-family="Liberation Sans">
    <text x="862" y="466.7">2</text><text x="875" y="466.7">3</text><text x="888.5" y="466.7">1</text><text x="901" y="466.7">2</text><text x="914" y="466.7">2</text><text x="927.5" y="466.7">1</text><text x="940" y="466.7">3</text>
  </g>
  <text x="953.5" y="467" font-size="8" font-weight="bold" fill="#e6e030" font-family="Liberation Sans">2</text>
  <path d="M850,472.2 L856,472.2 M850,501.5 L856,501.5" stroke="#c33" stroke-width="1"/>
  <text x="853" y="490" font-size="4" fill="#c33" transform="rotate(-90 853 487)" font-family="Liberation Sans">mm</text>
</g>

<!-- TRANSPONDER DRAWING -->

<g id="trans">
  <g stroke-linejoin="round" stroke-linecap="round">
    <path d="M413,400 L431,403 C435,404 437,407 437,410 L437,416 L415,416 C413,413 412,406 413,400 Z" fill="#fff" stroke="#6a6a6a" stroke-width="0.9"/>
    <path d="M418,403 L432,406 M418,408 L433,411" stroke="#999" stroke-width="0.7" fill="none"/>
    <path d="M397,430 C399,425 402,423 406,422 L440,409 C446,407 452,407 457,409 L497,428 C505,432 512,437 517,443 L529,450 L561,465 C567,468 571,472 572,477 L571,508 C570,515 566,520 560,522 L545,526 C536,527 528,525 520,522 L497,511 C488,507 480,503 474,497 L468,490 L412,468 C404,465 398,460 396,454 L394,442 C394,436 395,432 397,430 Z" fill="#fff" stroke="#5e5e5e" stroke-width="1"/>
    <g fill="none" stroke="#7a7a7a" stroke-width="0.8">
      <path d="M400,433 C402,429 405,427 409,426 L442,413 C448,411 453,411 458,413 L496,432 C503,436 509,441 514,447 L527,455 L559,470 C564,473 567,476 567,481"/>
      <path d="M397,455 C420,465 448,474 478,479 C500,484 522,494 538,504 L570,479"/>
      <path d="M399,449 C422,459 450,468 480,473 C502,477 522,486 536,497 L566,474"/>
      <path d="M417,420 L447,411 C455,410 470,416 488,425 C494,429 494,436 490,442 L482,456 C478,461 470,462 462,461 L424,453 C416,451 412,446 413,438 C413,430 414,424 417,420 Z"/>
      <path d="M468,490 L474,480 M474,497 L481,486 M487,505 L491,488 M499,511 L503,492 M511,516 L515,496 M523,521 L527,500"/>
      <path d="M538,504 L570,479 L570.5,506 C569.5,513 565,519 558,522 L540,527 Z"/>
      <path d="M545,509 L563,495 L563,510 L547,522 Z"/>
      <path d="M481,457 L511,449 C514,449 515,452 514,455 L486,464 C483,464 480,461 481,457 Z"/>
      <path d="M503,458 L507,457 M499,472 L499,476 L503,477 M541,470 L545,471 L545,475 M531,489 L535,489 L536,485 M502,487 L506,488"/>
      <path d="M538,484 L559,478 C562,478 563,480 562,483 L541,490 C538,490 537,487 538,484 Z"/>
      <path d="M398,456 L408,460 L408,468 L399,465 Z"/>
      <path d="M403,428 L411,425 L412,429 L404,432 Z"/>
      <circle cx="482" cy="439" r="3.2"/>
      <path d="M463,451 L469,450 L469,453 L463,454 Z"/>
    </g>
    <path d="M421,439 C421,432 425,428 432,426.5 L469,420 C476,419 481,422 480,428 L476,442 C473,449 467,452 460,453 L431,455 C425,455 421,451 421,446 Z" fill="#fff" stroke="#3a3a3a" stroke-width="1.1"/>
    <path d="M517,466 C519,463 523,463 525,466" fill="none" stroke="#777" stroke-width="1.4"/>
    <circle cx="528" cy="469" r="1.2" fill="#777"/>
  </g>
  <g fill="none" stroke="#a9dcf5" stroke-width="1.1">
    <path d="M343,431 C368,462 405,490 457,512"/>
    <path d="M362,428 C385,452 415,470 452,478"/>
    <path d="M379,428 C398,446 420,458 446,464"/>
  </g>
  <g fill="none" stroke="#b7e2f6" stroke-width="0.8" opacity="0.9">
    <path d="M432,452 C445,466 470,470 488,462"/>
    <path d="M420,458 C440,480 480,484 505,470"/>
    <path d="M412,464 C435,492 490,496 520,480"/>
  </g>
  <!-- hand -->
  <path d="M587,366 C570,372 552,371 538,368 C525,365 512,360 500,362 C488,364 478,372 470,382 C462,392 456,402 452,412 C449,420 448,427 451,430 C455,432 459,428 461,422 L466,412 C470,420 476,428 482,432 C486,436 492,437 498,434 C510,426 525,418 545,412 C560,408 575,404 587,400 Z" fill="#fff"/>
  <g fill="none" stroke="#a9d273" stroke-width="0.9" stroke-linejoin="round" stroke-linecap="round">
    <path d="M587,366 C570,372 552,371 538,368 C525,365 512,360 500,362 C488,364 478,372 470,382 C462,392 456,402 452,412 C449,420 448,427 451,430 C455,432 459,428 461,422 L466,412"/>
    <path d="M587,400 C575,404 560,408 545,412 C525,418 510,426 498,434 C492,437 486,436 482,432 C478,428 476,424 476,420"/>
    <path d="M470,382 C476,388 484,390 492,386 C496,384 498,380 497,376"/>
    <path d="M477,392 C484,398 494,398 500,394 C504,390 505,386 503,382"/>
    <path d="M484,402 C490,407 498,407 504,404 C508,400 508,396 506,392"/>
    <path d="M497,376 L506,373 L510,378 M503,382 L512,380 M506,392 L514,388 L515,382"/>
    <path d="M466,412 C470,405 474,400 478,398"/>
  </g>
  <path d="M455,431 L466,416 L475,421 L463,436 Z" fill="#1e1e1e"/>
  <path d="M463,436 L475,421 L476,424 L465,438 Z" fill="#4a4a4a"/>
</g>

<!-- BLADE PHOTO -->
<g id="bladephoto">
  <defs>
    <clipPath id="blclip"><rect x="806.5" y="658.5" width="100.5" height="101" rx="9.5"/></clipPath>
    <linearGradient id="bsil" x1="0" y1="0" x2="0" y2="1">
      <stop offset="0" stop-color="#b8b2ac"/>
      <stop offset="0.5" stop-color="#a09a94"/>
      <stop offset="1" stop-color="#6e6a66"/>
    </linearGradient>
    <linearGradient id="bshadow" x1="0" y1="0" x2="0" y2="1">
      <stop offset="0" stop-color="#a0a0a0" stop-opacity="0.7"/>
      <stop offset="1" stop-color="#ffffff" stop-opacity="0"/>
    </linearGradient>
    <filter id="bblur" x="-20%" y="-50%" width="140%" height="200%"><feGaussianBlur stdDeviation="2"/></filter>
  </defs>
  <g clip-path="url(#blclip)">
    <path d="M830,728 L910,690 L910,714 L846,740 Z" fill="#a8a8a8" opacity="0.7" filter="url(#bblur)"/>
    <path d="M852,703 L900,664" stroke="#d0d0d0" stroke-width="0.7"/>
    <g transform="translate(822,719) rotate(-23.5)">
      <path d="M0,0 C0,-3 2,-5 5,-5.5 L100,-8 L100,9 L7,7.5 C3,7 0,4 0,0 Z" fill="#c9c5c1" stroke="#6a6a6a" stroke-width="0.7"/>
      <path d="M4,-4.5 L100,-7.5 L100,-3 L6,-1 Z" fill="#e6e4e2"/>
      <path d="M5,2.5 L100,0.5 L100,9 L7,7.5 Z" fill="url(#bsil)"/>
      <path d="M8,3.2 L100,1.2" stroke="#f0f0f0" stroke-width="0.9"/>
      <path d="M2,-1 C8,-3 14,1 22,0 C28,-1 30,-5 38,-4.5 C45,-4 48,-1.5 55,-3 C62,-5 66,-7 72,-6.5 C75,-6 77,-5 78,-6" fill="none" stroke="#2e2a28" stroke-width="3.2" stroke-linecap="round"/>
      <path d="M1,4 L6,6.5 L3,8" fill="none" stroke="#666" stroke-width="0.8"/>
    </g>
  </g>
</g>

<!-- MIDDLE KEY -->
<g id="midkey">
  <defs>
    <linearGradient id="mbl" x1="0" y1="0" x2="1" y2="0">
      <stop offset="0" stop-color="#cfc6aa"/>
      <stop offset="0.15" stop-color="#e8e1cb"/>
      <stop offset="0.25" stop-color="#c4b999"/>
      <stop offset="0.35" stop-color="#ece6d2"/>
      <stop offset="0.65" stop-color="#e4dcc4"/>
      <stop offset="0.75" stop-color="#c2b897"/>
      <stop offset="0.85" stop-color="#ebe4cd"/>
      <stop offset="1" stop-color="#cbc2a5"/>
    </linearGradient>
    <linearGradient id="pcbg" x1="0" y1="0" x2="1" y2="1">
      <stop offset="0" stop-color="#2f9a3a"/>
      <stop offset="1" stop-color="#3aa845"/>
    </linearGradient>
  </defs>
  <path d="M482,578 C482,573 485,569 490,568.5 C496,568.5 501.5,572 501.5,578 L501.5,679 L482,679 Z" fill="url(#mbl)" stroke="#b3a987" stroke-width="0.6"/>
  <path d="M479,678 L504,678 C512,683 522,695 531,714 C537,727 540,740 539.5,758 C538,770 532,776 520,783 C512,790 503,797 488,797.5 C474,796 466,788 459,782 C450,776 446,768 445,754 C445,740 448,728 453,715 C460,700 470,686 479,678 Z" fill="#161616"/>
  <path d="M482,680 L502,680 C510,686 520,697 528,714 L460,716 C466,700 474,688 482,680 Z" fill="#222"/>
  <!-- PCB -->
  <path d="M473,709 C490,707 505,707 518,707.5 C526,709 532,712 535,717 L537,770 C535,774 532,776 528,776 L456,774.5 C452,773 450,770 449.5,765 L450,742 C452,733 456,726 460,721 C464,715 468,711 473,709 Z" fill="#37a043"/>
  <path d="M455,752 L470,752 M462,745 L462,768 M452,770 L490,770" stroke="#c9b25a" stroke-width="0.8" fill="none" opacity="0.7"/>
  <circle cx="460" cy="735" r="2.5" fill="#c9a94a" opacity="0.8"/>
  <circle cx="530" cy="763" r="2.5" fill="#c9a94a" opacity="0.8"/>
  <!-- battery contact area -->
  <ellipse cx="485" cy="755" rx="15" ry="11" fill="#b8944e" opacity="0.8"/>
  <!-- silver holder -->
  <path d="M469,735 L503,766 A25,25 0 1 0 469,735 Z" fill="#c2c2c2" stroke="#8a8a8a" stroke-width="0.6"/>
  <path d="M467.5,736.5 L502,768 L504.5,765 L470,733.5 Z" fill="#eeeeee" stroke="#666" stroke-width="0.5"/>
  <path d="M470,737 L503,767" stroke="#444" stroke-width="0.8"/>
  <g transform="rotate(40 483 733)"><rect x="477" y="727" width="12" height="12" fill="#a8862e"/><rect x="480" y="730" width="6" height="6" fill="#dfe6f2"/></g>
  <g transform="rotate(40 499 747)"><rect x="493" y="741" width="12" height="12" fill="#a8862e"/><rect x="496" y="744" width="6" height="6" fill="#dfe6f2"/></g>
  <path d="M497,722 L511,729 M495,727 L513,735 M500,732 L514,740 M503,738 L514,744" stroke="#555" stroke-width="0.9"/>
  <path d="M512,762 L518,756 L520,758 L514,764 Z" fill="#e6e6e6"/>
  <!-- connector -->
  <rect x="518" y="712" width="16" height="32" fill="#eeeeee" stroke="#bbb" stroke-width="0.6"/>
  <rect x="523" y="716" width="6" height="24" fill="#d8d8d8"/>
  <!-- date text -->
  <text x="462" y="770" font-size="4.5" fill="#222" font-family="Liberation Sans">E21-06-23</text>
  <!-- ring slot -->
  <path d="M478,782 C488,780 500,780 510,782 C508,787 504,789 494,789.5 C486,789.5 481,788 478,782 Z" fill="#e8e8e8"/>
  <!-- side slot -->
  <path d="M449,742 L459,713 L464,715 L454,744 Z" fill="#2e2e2e" stroke="#555" stroke-width="0.5"/>
  <!-- chip -->
  <rect x="452" y="694.5" width="32" height="15" fill="#262626"/>
  <rect x="454" y="705" width="30" height="4.7" fill="#555"/>
  <!-- pointing hand icon -->
  <g fill="none" stroke-width="1.2" stroke-linejoin="round">
    <defs>
      <linearGradient id="handg" x1="1" y1="0" x2="0" y2="1">
        <stop offset="0" stop-color="#e020c0"/>
        <stop offset="0.45" stop-color="#a030d8"/>
        <stop offset="1" stop-color="#2a48d8"/>
      </linearGradient>
    </defs>
    <path d="M411,711 L411,696 L428.5,688.5 L432.5,688.5 L432.5,693 L429.5,695.5 L446,696.5 L447,699 L446,701.8 L436.5,701.8 L436.5,704.5 L430.5,705.8 L436,706.4 L436,709.5 L429,711 L433.5,712 L432,714 L430,716 L420,715.5 L415,713 L411,711 Z" stroke="url(#handg)" stroke-width="1.5"/>
  </g>
</g>

<!-- CAR -->
<g id="car">
  <defs>
    <linearGradient id="carbody" x1="0" y1="0" x2="0" y2="1">
      <stop offset="0" stop-color="#e01822"/>
      <stop offset="0.45" stop-color="#cc1220"/>
      <stop offset="1" stop-color="#930a14"/>
    </linearGradient>
    <linearGradient id="carside" x1="0" y1="0" x2="1" y2="0">
      <stop offset="0" stop-color="#8a0a10" stop-opacity="0.5"/>
      <stop offset="1" stop-color="#7a0810" stop-opacity="0.75"/>
    </linearGradient>
    <radialGradient id="rim" cx="0.5" cy="0.5" r="0.5">
      <stop offset="0" stop-color="#9a9a9a"/>
      <stop offset="0.25" stop-color="#555"/>
      <stop offset="0.7" stop-color="#3a3a3a"/>
      <stop offset="0.78" stop-color="#d8d8d8"/>
      <stop offset="0.86" stop-color="#bbb"/>
      <stop offset="0.88" stop-color="#1a1a1a"/>
      <stop offset="1" stop-color="#111"/>
    </radialGradient>
    <radialGradient id="carshadow" cx="0.5" cy="0.5" r="0.5">
      <stop offset="0" stop-color="#333" stop-opacity="0.8"/>
      <stop offset="1" stop-color="#888" stop-opacity="0"/>
    </radialGradient>
    <filter id="glow" x="-50%" y="-50%" width="200%" height="200%"><feGaussianBlur stdDeviation="1.6"/></filter>
  </defs>
  <ellipse cx="860" cy="957" rx="92" ry="7" fill="url(#carshadow)"/>
  <path d="M766,948 L765,936 C766,928 770,920 774,914 C782,908 795,904 809,901.5 L817,901 C825,894 832,888 840,883 C860,880 885,879.5 904,880 C918,881 928,884 936,890 C944,896 950,903 953,912 L955,930 C955,942 953,948 950,950 L940,950 L905,952 C902,958 896,961 888,961 C880,961 876,958 874,955 L836,955 L790,956 C780,956 770,953 766,948 Z" fill="url(#carbody)"/>
  <path d="M893,906 C910,904 935,904 950,906 L954,930 C954,942 952,948 949,950 L905,952 L898,930 Z" fill="url(#carside)"/>
  <!-- windshield -->
  <path d="M817,901.5 C825,894 832,888 840,883.5 L903,882 L901,901.5 Z" fill="#2b2627"/>
  <path d="M823,900 C829,894 835,890 842,887 L898,886 L897,900 Z" fill="#cfc9c4"/>
  <path d="M842,887 L898,886 L897,890 L838,891 Z" fill="#8a8280" opacity="0.6"/>
  <path d="M846,900 C850,894 858,892 866,893 L870,900 Z M872,900 C876,895 884,894 890,895 L892,900 Z" fill="#b9a89c" opacity="0.8"/>
  <!-- side window -->
  <path d="M905,884.5 C916,884 926,887 934,893 L940,902 L907,902.5 Z" fill="#2b2627"/>
  <path d="M909,887 C917,887 925,890 931,896 L935,900.5 L910,901 Z" fill="#dcd6d2"/>
  <path d="M925,888 L929,901" stroke="#2b2627" stroke-width="1"/>
  <!-- mirror -->
  <path d="M907,904 C909,899 915,898 922,899 C925,900 925,903 922,905 L910,906 Z" fill="#b80d1e"/>
  <path d="M866,901 L870,898 L874,901 Z" fill="#b80d1e"/>
  <!-- hood & body highlights -->
  <path d="M775,914 C790,906 805,903 820,903 C812,906 798,911 786,917 Z" fill="#ea4555" opacity="0.55"/>
  <path d="M800,915 C812,908 828,905 845,904 C835,909 818,914 806,918 Z" fill="#f06070" opacity="0.4"/>
  <path d="M900,917 C912,910 928,905 944,904 C932,910 915,916 903,921 Z" fill="#f48090" opacity="0.55"/>
  <path d="M914,917 C926,912 938,908 950,908 L950,910 C938,912 926,916 916,920 Z" fill="#fff" opacity="0.45"/>
  <!-- lower body shade -->
  <path d="M768,932 C800,934 840,934 872,932 L874,955 L790,956 C780,956 770,953 766,948 Z" fill="#9c0a18" opacity="0.35"/>
  <!-- headlights -->
  <ellipse cx="847" cy="922" rx="20" ry="6" fill="#ffffff" filter="url(#glow)"/>
  <path d="M830,924 C840,918 856,916 867,916 L866,926 C852,928 840,928 830,926 Z" fill="#fafafa"/>
  <ellipse cx="776" cy="922" rx="6" ry="5" fill="#ffffff" filter="url(#glow)"/>
  <!-- grille -->
  <path d="M773,938 C790,937 815,937 836,938.5 L831,951 C815,952 790,952 777,951 Z" fill="#161616"/>
  <path d="M844,938.5 C850,937.5 857,937.5 862,938 L860,950 C854,951 849,951 846,950.5 Z" fill="#161616"/>
  <path d="M836,944 L846,941 L846,947 L838,950 Z" fill="#d01a2a"/>
  <path d="M790,955 L870,954" stroke="#e05060" stroke-width="0.8" opacity="0.6"/>
  <!-- wheels -->
  <ellipse cx="887.5" cy="940" rx="13.5" ry="20.5" fill="#1a1a1a"/>
  <ellipse cx="888" cy="940.5" rx="12.5" ry="19.5" fill="url(#rim)"/>
  <g stroke="#e2e2e2" stroke-width="1.1">
    <line x1="888" y1="940.5" x2="888" y2="923"/>
    <line x1="888" y1="940.5" x2="898" y2="929"/>
    <line x1="888" y1="940.5" x2="899" y2="946"/>
    <line x1="888" y1="940.5" x2="893" y2="958"/>
    <line x1="888" y1="940.5" x2="880" y2="957"/>
    <line x1="888" y1="940.5" x2="877" y2="944"/>
    <line x1="888" y1="940.5" x2="879" y2="927"/>
  </g>
  <circle cx="888" cy="940.5" r="2.5" fill="#ccc"/>
  <path d="M893,930 L897,934 L895,940 Z" fill="#b08040" opacity="0.8"/>
  <ellipse cx="948" cy="933" rx="7" ry="17.5" fill="#1a1a1a"/>
  <ellipse cx="948.5" cy="933" rx="6" ry="16" fill="url(#rim)"/>
  <g stroke="#dadada" stroke-width="0.8">
    <line x1="948.5" y1="933" x2="948.5" y2="918"/>
    <line x1="948.5" y1="933" x2="953" y2="924"/>
    <line x1="948.5" y1="933" x2="954" y2="940"/>
    <line x1="948.5" y1="933" x2="950" y2="948"/>
    <line x1="948.5" y1="933" x2="944" y2="945"/>
    <line x1="948.5" y1="933" x2="943" y2="925"/>
  </g>
</g>

<!-- HEARTBEAT -->
<path d="M654.4,933 H681 L684,945 L691.8,916.8 L697.4,960 L705.2,916.8 L708.8,941.4 L712.2,933 H750.4" fill="none" stroke="#1aa7e0" stroke-width="2" stroke-linejoin="miter"/>

</svg>
</body></html>
